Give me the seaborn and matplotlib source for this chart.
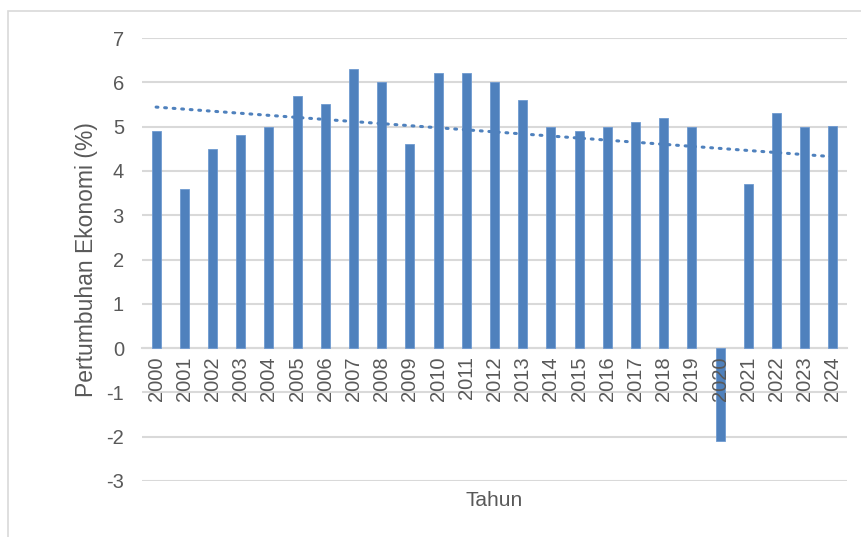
import numpy as np
import pandas as pd
import seaborn as sns
import matplotlib.pyplot as plt
from matplotlib.patches import Rectangle

years = [str(y) for y in range(2000, 2025)]
growth = [4.9, 3.6, 4.5, 4.8, 5.0, 5.7, 5.5, 6.3, 6.0, 4.6, 6.2, 6.2, 6.0,
          5.6, 5.0, 4.9, 5.0, 5.1, 5.2, 5.0, -2.1, 3.7, 5.3, 5.0, 5.02]
y_ticks = list(range(-3, 8))

df = pd.DataFrame({'Tahun': years, 'Pertumbuhan': growth})

sns.set_style('white')
plt.rcParams['font.family'] = ['Liberation Sans', 'DejaVu Sans']
text_color = '#595959'
grid_color = '#d9d9d9'
bar_color = '#4f81bd'

fig = plt.figure(figsize=(8.61, 5.37), dpi=100)
ax = fig.add_axes([142 / 861, (537 - 481) / 537, 705 / 861, 443 / 537])

sns.barplot(data=df, x='Tahun', y='Pertumbuhan', color=bar_color,
            width=0.32, saturation=1, edgecolor='#6f9ad0', linewidth=0.6,
            ax=ax, zorder=3)

# linear trend line (Excel style dotted)
xs = np.arange(len(years))
slope, intercept = np.polyfit(xs, growth, 1)
ax.plot(xs, slope * xs + intercept, linestyle=(0, (0.6, 2.2)),
        dash_capstyle='round', color=bar_color, linewidth=2.2, zorder=4)

ax.set_ylim(-3, 7)
ax.set_xlim(-0.5, len(years) - 0.5)
ax.set_yticks(y_ticks)
ax.set_yticklabels([str(t) for t in y_ticks])
ax.yaxis.grid(True, color=grid_color, linewidth=1.5)
ax.set_axisbelow(True)
ax.xaxis.set_zorder(5)  # year labels drawn over the 2020 bar

for side in ['top', 'right', 'left']:
    ax.spines[side].set_visible(False)
ax.spines['bottom'].set_position(('data', 0))
ax.spines['bottom'].set_color(grid_color)
ax.spines['bottom'].set_linewidth(1.5)
ax.spines['bottom'].set_zorder(1)

ax.tick_params(axis='x', length=0, rotation=90, labelsize=14.5,
               labelcolor=text_color, pad=6)
ax.tick_params(axis='y', length=0, labelsize=14.5, labelcolor=text_color, pad=13)

ax.set_xlabel('')
ax.set_ylabel('Pertumbuhan Ekonomi (%)', fontsize=16.5, color=text_color)
ax.yaxis.set_label_coords(-0.079, 0.5)
ax.yaxis.label.set_verticalalignment('center')
fig.text(494 / 861, 1 - 500 / 537, 'Tahun', fontsize=15, color=text_color,
         ha='center', va='center')

fig.add_artist(Rectangle((8 / 861, -0.1), 2, 1 - 11 / 537 + 0.1,
                         transform=fig.transFigure, fill=False,
                         edgecolor=grid_color, linewidth=1.2))

fig.savefig('out.png', dpi=100)
